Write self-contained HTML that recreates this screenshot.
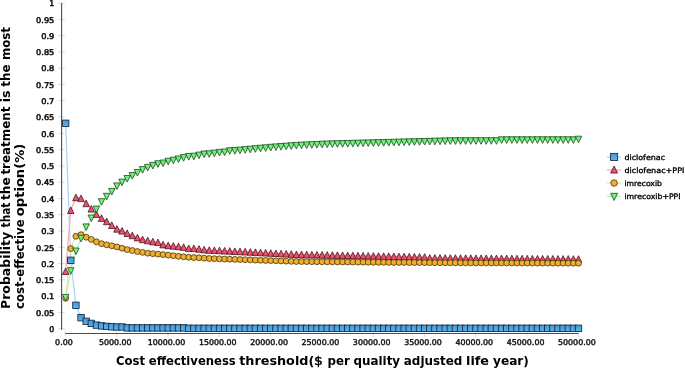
<!DOCTYPE html>
<html><head><meta charset="utf-8"><title>Cost-effectiveness acceptability curve</title>
<style>html,body{margin:0;padding:0;background:#fff}svg{display:block}</style></head>
<body>
<svg width="685" height="368" viewBox="0 0 685 368">
<defs><linearGradient id="gb" x1="0" y1="0" x2="0" y2="1"><stop offset="0" stop-color="#4799d6"/><stop offset="1" stop-color="#58b1ee"/></linearGradient></defs>
<rect width="685" height="368" fill="#fff"/>
<g stroke="#dedede" stroke-width="1">
<line x1="58" x2="65" y1="328.70" y2="328.70"/>
<line x1="58" x2="65" y1="312.42" y2="312.42"/>
<line x1="58" x2="65" y1="296.14" y2="296.14"/>
<line x1="58" x2="65" y1="279.86" y2="279.86"/>
<line x1="58" x2="65" y1="263.58" y2="263.58"/>
<line x1="58" x2="65" y1="247.30" y2="247.30"/>
<line x1="58" x2="65" y1="231.02" y2="231.02"/>
<line x1="58" x2="65" y1="214.74" y2="214.74"/>
<line x1="58" x2="65" y1="198.46" y2="198.46"/>
<line x1="58" x2="65" y1="182.18" y2="182.18"/>
<line x1="58" x2="65" y1="165.90" y2="165.90"/>
<line x1="58" x2="65" y1="149.62" y2="149.62"/>
<line x1="58" x2="65" y1="133.34" y2="133.34"/>
<line x1="58" x2="65" y1="117.06" y2="117.06"/>
<line x1="58" x2="65" y1="100.78" y2="100.78"/>
<line x1="58" x2="65" y1="84.50" y2="84.50"/>
<line x1="58" x2="65" y1="68.22" y2="68.22"/>
<line x1="58" x2="65" y1="51.94" y2="51.94"/>
<line x1="58" x2="65" y1="35.66" y2="35.66"/>
<line x1="58" x2="65" y1="19.38" y2="19.38"/>
<line x1="58" x2="65" y1="3.10" y2="3.10"/>
<line x1="65.30" x2="65.30" y1="331" y2="337"/>
<line x1="116.60" x2="116.60" y1="331" y2="337"/>
<line x1="167.90" x2="167.90" y1="331" y2="337"/>
<line x1="219.20" x2="219.20" y1="331" y2="337"/>
<line x1="270.50" x2="270.50" y1="331" y2="337"/>
<line x1="321.80" x2="321.80" y1="331" y2="337"/>
<line x1="373.10" x2="373.10" y1="331" y2="337"/>
<line x1="424.40" x2="424.40" y1="331" y2="337"/>
<line x1="475.70" x2="475.70" y1="331" y2="337"/>
<line x1="527.00" x2="527.00" y1="331" y2="337"/>
<line x1="578.30" x2="578.30" y1="331" y2="337"/>
</g>
<line x1="61.6" x2="61.6" y1="3.10" y2="329.70" stroke="#4d4d4d" stroke-width="1.1"/>
<line x1="65.2" x2="578.4" y1="333.5" y2="333.5" stroke="#4d4d4d" stroke-width="1.1"/>
<g font-family='"DejaVu Sans","Liberation Sans",sans-serif' font-size="7.8px" fill="#0a0a0a" stroke="#0a0a0a" stroke-width="0.5" text-anchor="end">
<text x="54.3" y="331.90">0</text>
<text x="54.3" y="315.62" textLength="18.2" lengthAdjust="spacingAndGlyphs">0.05</text>
<text x="54.3" y="299.34" textLength="13.1" lengthAdjust="spacingAndGlyphs">0.1</text>
<text x="54.3" y="283.06" textLength="18.2" lengthAdjust="spacingAndGlyphs">0.15</text>
<text x="54.3" y="266.78" textLength="13.1" lengthAdjust="spacingAndGlyphs">0.2</text>
<text x="54.3" y="250.50" textLength="18.2" lengthAdjust="spacingAndGlyphs">0.25</text>
<text x="54.3" y="234.22" textLength="13.1" lengthAdjust="spacingAndGlyphs">0.3</text>
<text x="54.3" y="217.94" textLength="18.2" lengthAdjust="spacingAndGlyphs">0.35</text>
<text x="54.3" y="201.66" textLength="13.1" lengthAdjust="spacingAndGlyphs">0.4</text>
<text x="54.3" y="185.38" textLength="18.2" lengthAdjust="spacingAndGlyphs">0.45</text>
<text x="54.3" y="169.10" textLength="13.1" lengthAdjust="spacingAndGlyphs">0.5</text>
<text x="54.3" y="152.82" textLength="18.2" lengthAdjust="spacingAndGlyphs">0.55</text>
<text x="54.3" y="136.54" textLength="13.1" lengthAdjust="spacingAndGlyphs">0.6</text>
<text x="54.3" y="120.26" textLength="18.2" lengthAdjust="spacingAndGlyphs">0.65</text>
<text x="54.3" y="103.98" textLength="13.1" lengthAdjust="spacingAndGlyphs">0.7</text>
<text x="54.3" y="87.70" textLength="18.2" lengthAdjust="spacingAndGlyphs">0.75</text>
<text x="54.3" y="71.42" textLength="13.1" lengthAdjust="spacingAndGlyphs">0.8</text>
<text x="54.3" y="55.14" textLength="18.2" lengthAdjust="spacingAndGlyphs">0.85</text>
<text x="54.3" y="38.86" textLength="13.1" lengthAdjust="spacingAndGlyphs">0.9</text>
<text x="54.3" y="22.58" textLength="18.2" lengthAdjust="spacingAndGlyphs">0.95</text>
<text x="54.3" y="6.30">1</text>
</g>
<g font-family='"DejaVu Sans","Liberation Sans",sans-serif' font-size="7.9px" fill="#0a0a0a" stroke="#0a0a0a" stroke-width="0.4" text-anchor="middle">
<text x="63.90" y="345.3">0.00</text>
<text x="115.20" y="345.3">5000.00</text>
<text x="166.50" y="345.3">10000.00</text>
<text x="217.80" y="345.3">15000.00</text>
<text x="269.10" y="345.3">20000.00</text>
<text x="320.40" y="345.3">25000.00</text>
<text x="371.70" y="345.3">30000.00</text>
<text x="423.00" y="345.3">35000.00</text>
<text x="474.30" y="345.3">40000.00</text>
<text x="525.60" y="345.3">45000.00</text>
<text x="576.90" y="345.3">50000.00</text>
</g>
<text font-family='"DejaVu Sans Condensed","DejaVu Sans","Liberation Sans",sans-serif' font-weight="bold" font-size="12.3px" fill="#000"><tspan x="116.00" y="364.6" textLength="29.10" lengthAdjust="spacingAndGlyphs">Cost</tspan> <tspan x="148.80" y="364.6" textLength="86.90" lengthAdjust="spacingAndGlyphs">effectiveness</tspan> <tspan x="239.20" y="364.6" textLength="75.10" lengthAdjust="spacingAndGlyphs">threshold(</tspan><tspan x="314.10" y="364.6" textLength="8.80" lengthAdjust="spacingAndGlyphs" font-weight="normal" stroke="#000" stroke-width="0.45">$</tspan> <tspan x="327.50" y="364.6" textLength="22.30" lengthAdjust="spacingAndGlyphs">per</tspan> <tspan x="353.60" y="364.6" textLength="46.50" lengthAdjust="spacingAndGlyphs">quality</tspan> <tspan x="403.80" y="364.6" textLength="58.60" lengthAdjust="spacingAndGlyphs">adjusted</tspan> <tspan x="466.00" y="364.6" textLength="23.00" lengthAdjust="spacingAndGlyphs">life</tspan> <tspan x="493.00" y="364.6" textLength="35.90" lengthAdjust="spacingAndGlyphs">year)</tspan></text>
<g transform="rotate(-90)" font-family='"DejaVu Sans Condensed","DejaVu Sans","Liberation Sans",sans-serif' font-weight="bold" font-size="13px" fill="#000">
<text><tspan x="-308.90" y="10.3" textLength="76.90" lengthAdjust="spacingAndGlyphs">Probability</tspan> <tspan x="-227.40" y="10.3" textLength="24.70" lengthAdjust="spacingAndGlyphs">that</tspan> <tspan x="-200.00" y="10.3" textLength="22.60" lengthAdjust="spacingAndGlyphs">the</tspan> <tspan x="-174.60" y="10.3" textLength="68.10" lengthAdjust="spacingAndGlyphs">treatment</tspan> <tspan x="-102.20" y="10.3" textLength="11.80" lengthAdjust="spacingAndGlyphs">is</tspan> <tspan x="-86.70" y="10.3" textLength="22.10" lengthAdjust="spacingAndGlyphs">the</tspan> <tspan x="-60.10" y="10.3" textLength="33.10" lengthAdjust="spacingAndGlyphs">most</tspan></text>
<text><tspan x="-309.00" y="24.0" textLength="89.60" lengthAdjust="spacingAndGlyphs">cost-effective</tspan> <tspan x="-216.20" y="24.0" textLength="72.40" lengthAdjust="spacingAndGlyphs">option(%)</tspan></text>
</g>
<polyline points="65.65,123.30 70.78,260.30 75.91,305.30 81.04,317.70 86.16,321.30 91.29,323.40 96.42,325.10 101.55,325.90 106.68,326.40 111.81,326.80 116.94,327.00 122.06,327.00 127.19,327.90 132.32,327.90 137.45,327.90 142.58,327.90 147.71,327.90 152.83,327.90 157.96,327.90 163.09,327.90 168.22,327.90 173.35,327.90 178.48,327.90 183.61,327.90 188.73,328.30 193.86,328.30 198.99,328.30 204.12,328.30 209.25,328.30 214.38,328.30 219.50,328.30 224.63,328.30 229.76,328.30 234.89,328.30 240.02,328.30 245.15,328.30 250.28,328.30 255.40,328.30 260.53,328.30 265.66,328.30 270.79,328.30 275.92,328.30 281.05,328.30 286.18,328.30 291.30,328.30 296.43,328.30 301.56,328.30 306.69,328.30 311.82,328.30 316.95,328.30 322.08,328.30 327.20,328.30 332.33,328.30 337.46,328.30 342.59,328.30 347.72,328.30 352.85,328.30 357.97,328.30 363.10,328.30 368.23,328.30 373.36,328.30 378.49,328.30 383.62,328.30 388.75,328.30 393.87,328.30 399.00,328.30 404.13,328.30 409.26,328.30 414.39,328.30 419.52,328.30 424.64,328.30 429.77,328.30 434.90,328.30 440.03,328.30 445.16,328.30 450.29,328.30 455.42,328.30 460.54,328.30 465.67,328.30 470.80,328.30 475.93,328.30 481.06,328.30 486.19,328.30 491.32,328.30 496.44,328.30 501.57,328.30 506.70,328.30 511.83,328.30 516.96,328.30 522.09,328.30 527.22,328.30 532.34,328.30 537.47,328.30 542.60,328.30 547.73,328.30 552.86,328.30 557.99,328.30 563.11,328.30 568.24,328.30 573.37,328.30 578.50,328.30" fill="none" stroke="#a8d3f2" stroke-width="1.2"/>
<polyline points="65.65,271.20 70.78,210.20 75.91,197.40 81.04,198.30 86.16,203.40 91.29,208.80 96.42,214.20 101.55,218.10 106.68,221.40 111.81,225.20 116.94,228.90 122.06,230.80 127.19,233.20 132.32,235.40 137.45,237.60 142.58,239.40 147.71,240.50 152.83,241.60 157.96,242.30 163.09,244.60 168.22,245.40 173.35,245.90 178.48,246.40 183.61,247.10 188.73,248.30 193.86,248.30 198.99,248.90 204.12,249.60 209.25,250.00 214.38,250.24 219.50,250.47 224.63,250.71 229.76,250.95 234.89,251.19 240.02,251.43 245.15,251.66 250.28,251.90 255.40,252.17 260.53,252.43 265.66,252.70 270.79,252.97 275.92,253.23 281.05,253.50 286.18,253.77 291.30,254.03 296.43,254.30 301.56,254.41 306.69,254.51 311.82,254.62 316.95,254.72 322.08,254.83 327.20,254.93 332.33,255.04 337.46,255.14 342.59,255.25 347.72,255.36 352.85,255.46 357.97,255.57 363.10,255.67 368.23,255.78 373.36,255.88 378.49,255.99 383.62,256.09 388.75,256.20 393.87,256.31 399.00,256.43 404.13,256.54 409.26,256.66 414.39,256.77 419.52,256.89 424.64,257.00 429.77,257.80 434.90,257.84 440.03,257.88 445.16,257.93 450.29,257.97 455.42,258.01 460.54,258.05 465.67,258.09 470.80,258.14 475.93,258.18 481.06,258.22 486.19,258.26 491.32,258.31 496.44,258.35 501.57,258.39 506.70,258.43 511.83,258.47 516.96,258.52 522.09,258.56 527.22,258.60 532.34,258.64 537.47,258.68 542.60,258.72 547.73,258.76 552.86,258.80 557.99,258.84 563.11,258.88 568.24,258.92 573.37,258.96 578.50,259.00" fill="none" stroke="#f9a6b4" stroke-width="1.2"/>
<polyline points="65.65,298.30 70.78,248.60 75.91,236.30 81.04,234.70 86.16,237.20 91.29,239.40 96.42,241.80 101.55,243.70 106.68,244.80 111.81,245.80 116.94,246.90 122.06,248.25 127.19,249.60 132.32,250.55 137.45,251.50 142.58,252.35 147.71,253.20 152.83,253.65 157.96,254.10 163.09,254.60 168.22,255.10 173.35,255.70 178.48,256.30 183.61,256.80 188.73,257.30 193.86,257.55 198.99,257.80 204.12,258.15 209.25,258.50 214.38,258.68 219.50,258.85 224.63,259.02 229.76,259.20 234.89,259.38 240.02,259.55 245.15,259.72 250.28,259.90 255.40,260.08 260.53,260.26 265.66,260.43 270.79,260.61 275.92,260.79 281.05,260.97 286.18,261.14 291.30,261.32 296.43,261.50 301.56,261.55 306.69,261.60 311.82,261.65 316.95,261.70 322.08,261.75 327.20,261.80 332.33,261.85 337.46,261.90 342.59,261.95 347.72,262.00 352.85,262.05 357.97,262.10 363.10,262.15 368.23,262.20 373.36,262.25 378.49,262.30 383.62,262.35 388.75,262.40 393.87,262.43 399.00,262.47 404.13,262.50 409.26,262.53 414.39,262.57 419.52,262.60 424.64,262.63 429.77,262.67 434.90,262.70 440.03,262.73 445.16,262.77 450.29,262.80 455.42,262.82 460.54,262.83 465.67,262.85 470.80,262.86 475.93,262.88 481.06,262.90 486.19,262.91 491.32,262.93 496.44,262.94 501.57,262.96 506.70,262.98 511.83,262.99 516.96,263.01 522.09,263.02 527.22,263.04 532.34,263.06 537.47,263.07 542.60,263.09 547.73,263.10 552.86,263.12 557.99,263.14 563.11,263.15 568.24,263.17 573.37,263.18 578.50,263.20" fill="none" stroke="#f9d9a8" stroke-width="1.2"/>
<polyline points="65.65,297.70 70.78,271.00 75.91,251.30 81.04,238.60 86.16,227.20 91.29,218.30 96.42,209.40 101.55,202.00 106.68,196.60 111.81,191.70 116.94,186.20 122.06,182.40 127.19,178.80 132.32,175.80 137.45,172.80 142.58,169.90 147.71,167.70 152.83,165.70 157.96,164.10 163.09,163.30 168.22,161.55 173.35,160.50 178.48,159.20 183.61,157.90 188.73,156.80 193.86,156.50 198.99,155.40 204.12,154.30 209.25,154.10 214.38,153.40 219.50,152.70 224.63,152.30 229.76,151.00 234.89,150.90 240.02,150.40 245.15,149.93 250.28,149.47 255.40,149.00 260.53,148.53 265.66,148.07 270.79,147.60 275.92,147.22 281.05,146.84 286.18,146.46 291.30,146.08 296.43,145.70 301.56,145.47 306.69,145.23 311.82,145.00 316.95,144.77 322.08,144.53 327.20,144.30 332.33,144.17 337.46,144.03 342.59,143.90 347.72,143.77 352.85,143.63 357.97,143.50 363.10,143.37 368.23,143.23 373.36,143.10 378.49,142.97 383.62,142.83 388.75,142.70 393.87,142.57 399.00,142.43 404.13,142.30 409.26,142.17 414.39,142.03 419.52,141.90 424.64,141.77 429.77,141.63 434.90,141.50 440.03,141.37 445.16,141.23 450.29,141.10 455.42,141.09 460.54,141.08 465.67,141.07 470.80,141.06 475.93,141.04 481.06,141.03 486.19,141.02 491.32,141.01 496.44,141.00 501.57,140.10 506.70,140.10 511.83,140.10 516.96,140.10 522.09,140.10 527.22,140.10 532.34,140.10 537.47,140.10 542.60,140.10 547.73,140.10 552.86,140.10 557.99,140.10 563.11,140.10 568.24,140.10 573.37,140.10 578.50,139.50" fill="none" stroke="#b2f7b6" stroke-width="1.2"/>
<g>
<rect x="62.45" y="120.10" width="6.40" height="6.40" fill="url(#gb)" stroke="#10283c" stroke-width="0.85"/>
<rect x="67.58" y="257.10" width="6.40" height="6.40" fill="url(#gb)" stroke="#10283c" stroke-width="0.85"/>
<rect x="72.71" y="302.10" width="6.40" height="6.40" fill="url(#gb)" stroke="#10283c" stroke-width="0.85"/>
<rect x="77.84" y="314.50" width="6.40" height="6.40" fill="url(#gb)" stroke="#10283c" stroke-width="0.85"/>
<rect x="82.96" y="318.10" width="6.40" height="6.40" fill="url(#gb)" stroke="#10283c" stroke-width="0.85"/>
<rect x="88.09" y="320.20" width="6.40" height="6.40" fill="url(#gb)" stroke="#10283c" stroke-width="0.85"/>
<rect x="93.22" y="321.90" width="6.40" height="6.40" fill="url(#gb)" stroke="#10283c" stroke-width="0.85"/>
<rect x="98.35" y="322.70" width="6.40" height="6.40" fill="url(#gb)" stroke="#10283c" stroke-width="0.85"/>
<rect x="103.48" y="323.20" width="6.40" height="6.40" fill="url(#gb)" stroke="#10283c" stroke-width="0.85"/>
<rect x="108.61" y="323.60" width="6.40" height="6.40" fill="url(#gb)" stroke="#10283c" stroke-width="0.85"/>
<rect x="113.73" y="323.80" width="6.40" height="6.40" fill="url(#gb)" stroke="#10283c" stroke-width="0.85"/>
<rect x="118.86" y="323.80" width="6.40" height="6.40" fill="url(#gb)" stroke="#10283c" stroke-width="0.85"/>
<rect x="123.99" y="324.70" width="6.40" height="6.40" fill="url(#gb)" stroke="#10283c" stroke-width="0.85"/>
<rect x="129.12" y="324.70" width="6.40" height="6.40" fill="url(#gb)" stroke="#10283c" stroke-width="0.85"/>
<rect x="134.25" y="324.70" width="6.40" height="6.40" fill="url(#gb)" stroke="#10283c" stroke-width="0.85"/>
<rect x="139.38" y="324.70" width="6.40" height="6.40" fill="url(#gb)" stroke="#10283c" stroke-width="0.85"/>
<rect x="144.51" y="324.70" width="6.40" height="6.40" fill="url(#gb)" stroke="#10283c" stroke-width="0.85"/>
<rect x="149.63" y="324.70" width="6.40" height="6.40" fill="url(#gb)" stroke="#10283c" stroke-width="0.85"/>
<rect x="154.76" y="324.70" width="6.40" height="6.40" fill="url(#gb)" stroke="#10283c" stroke-width="0.85"/>
<rect x="159.89" y="324.70" width="6.40" height="6.40" fill="url(#gb)" stroke="#10283c" stroke-width="0.85"/>
<rect x="165.02" y="324.70" width="6.40" height="6.40" fill="url(#gb)" stroke="#10283c" stroke-width="0.85"/>
<rect x="170.15" y="324.70" width="6.40" height="6.40" fill="url(#gb)" stroke="#10283c" stroke-width="0.85"/>
<rect x="175.28" y="324.70" width="6.40" height="6.40" fill="url(#gb)" stroke="#10283c" stroke-width="0.85"/>
<rect x="180.41" y="324.70" width="6.40" height="6.40" fill="url(#gb)" stroke="#10283c" stroke-width="0.85"/>
<rect x="185.53" y="325.10" width="6.40" height="6.40" fill="url(#gb)" stroke="#10283c" stroke-width="0.85"/>
<rect x="190.66" y="325.10" width="6.40" height="6.40" fill="url(#gb)" stroke="#10283c" stroke-width="0.85"/>
<rect x="195.79" y="325.10" width="6.40" height="6.40" fill="url(#gb)" stroke="#10283c" stroke-width="0.85"/>
<rect x="200.92" y="325.10" width="6.40" height="6.40" fill="url(#gb)" stroke="#10283c" stroke-width="0.85"/>
<rect x="206.05" y="325.10" width="6.40" height="6.40" fill="url(#gb)" stroke="#10283c" stroke-width="0.85"/>
<rect x="211.18" y="325.10" width="6.40" height="6.40" fill="url(#gb)" stroke="#10283c" stroke-width="0.85"/>
<rect x="216.31" y="325.10" width="6.40" height="6.40" fill="url(#gb)" stroke="#10283c" stroke-width="0.85"/>
<rect x="221.43" y="325.10" width="6.40" height="6.40" fill="url(#gb)" stroke="#10283c" stroke-width="0.85"/>
<rect x="226.56" y="325.10" width="6.40" height="6.40" fill="url(#gb)" stroke="#10283c" stroke-width="0.85"/>
<rect x="231.69" y="325.10" width="6.40" height="6.40" fill="url(#gb)" stroke="#10283c" stroke-width="0.85"/>
<rect x="236.82" y="325.10" width="6.40" height="6.40" fill="url(#gb)" stroke="#10283c" stroke-width="0.85"/>
<rect x="241.95" y="325.10" width="6.40" height="6.40" fill="url(#gb)" stroke="#10283c" stroke-width="0.85"/>
<rect x="247.08" y="325.10" width="6.40" height="6.40" fill="url(#gb)" stroke="#10283c" stroke-width="0.85"/>
<rect x="252.20" y="325.10" width="6.40" height="6.40" fill="url(#gb)" stroke="#10283c" stroke-width="0.85"/>
<rect x="257.33" y="325.10" width="6.40" height="6.40" fill="url(#gb)" stroke="#10283c" stroke-width="0.85"/>
<rect x="262.46" y="325.10" width="6.40" height="6.40" fill="url(#gb)" stroke="#10283c" stroke-width="0.85"/>
<rect x="267.59" y="325.10" width="6.40" height="6.40" fill="url(#gb)" stroke="#10283c" stroke-width="0.85"/>
<rect x="272.72" y="325.10" width="6.40" height="6.40" fill="url(#gb)" stroke="#10283c" stroke-width="0.85"/>
<rect x="277.85" y="325.10" width="6.40" height="6.40" fill="url(#gb)" stroke="#10283c" stroke-width="0.85"/>
<rect x="282.98" y="325.10" width="6.40" height="6.40" fill="url(#gb)" stroke="#10283c" stroke-width="0.85"/>
<rect x="288.10" y="325.10" width="6.40" height="6.40" fill="url(#gb)" stroke="#10283c" stroke-width="0.85"/>
<rect x="293.23" y="325.10" width="6.40" height="6.40" fill="url(#gb)" stroke="#10283c" stroke-width="0.85"/>
<rect x="298.36" y="325.10" width="6.40" height="6.40" fill="url(#gb)" stroke="#10283c" stroke-width="0.85"/>
<rect x="303.49" y="325.10" width="6.40" height="6.40" fill="url(#gb)" stroke="#10283c" stroke-width="0.85"/>
<rect x="308.62" y="325.10" width="6.40" height="6.40" fill="url(#gb)" stroke="#10283c" stroke-width="0.85"/>
<rect x="313.75" y="325.10" width="6.40" height="6.40" fill="url(#gb)" stroke="#10283c" stroke-width="0.85"/>
<rect x="318.88" y="325.10" width="6.40" height="6.40" fill="url(#gb)" stroke="#10283c" stroke-width="0.85"/>
<rect x="324.00" y="325.10" width="6.40" height="6.40" fill="url(#gb)" stroke="#10283c" stroke-width="0.85"/>
<rect x="329.13" y="325.10" width="6.40" height="6.40" fill="url(#gb)" stroke="#10283c" stroke-width="0.85"/>
<rect x="334.26" y="325.10" width="6.40" height="6.40" fill="url(#gb)" stroke="#10283c" stroke-width="0.85"/>
<rect x="339.39" y="325.10" width="6.40" height="6.40" fill="url(#gb)" stroke="#10283c" stroke-width="0.85"/>
<rect x="344.52" y="325.10" width="6.40" height="6.40" fill="url(#gb)" stroke="#10283c" stroke-width="0.85"/>
<rect x="349.65" y="325.10" width="6.40" height="6.40" fill="url(#gb)" stroke="#10283c" stroke-width="0.85"/>
<rect x="354.77" y="325.10" width="6.40" height="6.40" fill="url(#gb)" stroke="#10283c" stroke-width="0.85"/>
<rect x="359.90" y="325.10" width="6.40" height="6.40" fill="url(#gb)" stroke="#10283c" stroke-width="0.85"/>
<rect x="365.03" y="325.10" width="6.40" height="6.40" fill="url(#gb)" stroke="#10283c" stroke-width="0.85"/>
<rect x="370.16" y="325.10" width="6.40" height="6.40" fill="url(#gb)" stroke="#10283c" stroke-width="0.85"/>
<rect x="375.29" y="325.10" width="6.40" height="6.40" fill="url(#gb)" stroke="#10283c" stroke-width="0.85"/>
<rect x="380.42" y="325.10" width="6.40" height="6.40" fill="url(#gb)" stroke="#10283c" stroke-width="0.85"/>
<rect x="385.55" y="325.10" width="6.40" height="6.40" fill="url(#gb)" stroke="#10283c" stroke-width="0.85"/>
<rect x="390.67" y="325.10" width="6.40" height="6.40" fill="url(#gb)" stroke="#10283c" stroke-width="0.85"/>
<rect x="395.80" y="325.10" width="6.40" height="6.40" fill="url(#gb)" stroke="#10283c" stroke-width="0.85"/>
<rect x="400.93" y="325.10" width="6.40" height="6.40" fill="url(#gb)" stroke="#10283c" stroke-width="0.85"/>
<rect x="406.06" y="325.10" width="6.40" height="6.40" fill="url(#gb)" stroke="#10283c" stroke-width="0.85"/>
<rect x="411.19" y="325.10" width="6.40" height="6.40" fill="url(#gb)" stroke="#10283c" stroke-width="0.85"/>
<rect x="416.32" y="325.10" width="6.40" height="6.40" fill="url(#gb)" stroke="#10283c" stroke-width="0.85"/>
<rect x="421.44" y="325.10" width="6.40" height="6.40" fill="url(#gb)" stroke="#10283c" stroke-width="0.85"/>
<rect x="426.57" y="325.10" width="6.40" height="6.40" fill="url(#gb)" stroke="#10283c" stroke-width="0.85"/>
<rect x="431.70" y="325.10" width="6.40" height="6.40" fill="url(#gb)" stroke="#10283c" stroke-width="0.85"/>
<rect x="436.83" y="325.10" width="6.40" height="6.40" fill="url(#gb)" stroke="#10283c" stroke-width="0.85"/>
<rect x="441.96" y="325.10" width="6.40" height="6.40" fill="url(#gb)" stroke="#10283c" stroke-width="0.85"/>
<rect x="447.09" y="325.10" width="6.40" height="6.40" fill="url(#gb)" stroke="#10283c" stroke-width="0.85"/>
<rect x="452.22" y="325.10" width="6.40" height="6.40" fill="url(#gb)" stroke="#10283c" stroke-width="0.85"/>
<rect x="457.34" y="325.10" width="6.40" height="6.40" fill="url(#gb)" stroke="#10283c" stroke-width="0.85"/>
<rect x="462.47" y="325.10" width="6.40" height="6.40" fill="url(#gb)" stroke="#10283c" stroke-width="0.85"/>
<rect x="467.60" y="325.10" width="6.40" height="6.40" fill="url(#gb)" stroke="#10283c" stroke-width="0.85"/>
<rect x="472.73" y="325.10" width="6.40" height="6.40" fill="url(#gb)" stroke="#10283c" stroke-width="0.85"/>
<rect x="477.86" y="325.10" width="6.40" height="6.40" fill="url(#gb)" stroke="#10283c" stroke-width="0.85"/>
<rect x="482.99" y="325.10" width="6.40" height="6.40" fill="url(#gb)" stroke="#10283c" stroke-width="0.85"/>
<rect x="488.12" y="325.10" width="6.40" height="6.40" fill="url(#gb)" stroke="#10283c" stroke-width="0.85"/>
<rect x="493.24" y="325.10" width="6.40" height="6.40" fill="url(#gb)" stroke="#10283c" stroke-width="0.85"/>
<rect x="498.37" y="325.10" width="6.40" height="6.40" fill="url(#gb)" stroke="#10283c" stroke-width="0.85"/>
<rect x="503.50" y="325.10" width="6.40" height="6.40" fill="url(#gb)" stroke="#10283c" stroke-width="0.85"/>
<rect x="508.63" y="325.10" width="6.40" height="6.40" fill="url(#gb)" stroke="#10283c" stroke-width="0.85"/>
<rect x="513.76" y="325.10" width="6.40" height="6.40" fill="url(#gb)" stroke="#10283c" stroke-width="0.85"/>
<rect x="518.89" y="325.10" width="6.40" height="6.40" fill="url(#gb)" stroke="#10283c" stroke-width="0.85"/>
<rect x="524.01" y="325.10" width="6.40" height="6.40" fill="url(#gb)" stroke="#10283c" stroke-width="0.85"/>
<rect x="529.14" y="325.10" width="6.40" height="6.40" fill="url(#gb)" stroke="#10283c" stroke-width="0.85"/>
<rect x="534.27" y="325.10" width="6.40" height="6.40" fill="url(#gb)" stroke="#10283c" stroke-width="0.85"/>
<rect x="539.40" y="325.10" width="6.40" height="6.40" fill="url(#gb)" stroke="#10283c" stroke-width="0.85"/>
<rect x="544.53" y="325.10" width="6.40" height="6.40" fill="url(#gb)" stroke="#10283c" stroke-width="0.85"/>
<rect x="549.66" y="325.10" width="6.40" height="6.40" fill="url(#gb)" stroke="#10283c" stroke-width="0.85"/>
<rect x="554.79" y="325.10" width="6.40" height="6.40" fill="url(#gb)" stroke="#10283c" stroke-width="0.85"/>
<rect x="559.91" y="325.10" width="6.40" height="6.40" fill="url(#gb)" stroke="#10283c" stroke-width="0.85"/>
<rect x="565.04" y="325.10" width="6.40" height="6.40" fill="url(#gb)" stroke="#10283c" stroke-width="0.85"/>
<rect x="570.17" y="325.10" width="6.40" height="6.40" fill="url(#gb)" stroke="#10283c" stroke-width="0.85"/>
<rect x="575.30" y="325.10" width="6.40" height="6.40" fill="url(#gb)" stroke="#10283c" stroke-width="0.85"/>
</g>
<g>
<path d="M62.40 274.50L68.90 274.50L65.65 267.90Z" fill="#f0506b" stroke="#3c121c" stroke-width="0.75"/>
<path d="M67.53 213.50L74.03 213.50L70.78 206.90Z" fill="#f0506b" stroke="#3c121c" stroke-width="0.75"/>
<path d="M72.66 200.70L79.16 200.70L75.91 194.10Z" fill="#f0506b" stroke="#3c121c" stroke-width="0.75"/>
<path d="M77.79 201.60L84.29 201.60L81.04 195.00Z" fill="#f0506b" stroke="#3c121c" stroke-width="0.75"/>
<path d="M82.91 206.70L89.41 206.70L86.16 200.10Z" fill="#f0506b" stroke="#3c121c" stroke-width="0.75"/>
<path d="M88.04 212.10L94.54 212.10L91.29 205.50Z" fill="#f0506b" stroke="#3c121c" stroke-width="0.75"/>
<path d="M93.17 217.50L99.67 217.50L96.42 210.90Z" fill="#f0506b" stroke="#3c121c" stroke-width="0.75"/>
<path d="M98.30 221.40L104.80 221.40L101.55 214.80Z" fill="#f0506b" stroke="#3c121c" stroke-width="0.75"/>
<path d="M103.43 224.70L109.93 224.70L106.68 218.10Z" fill="#f0506b" stroke="#3c121c" stroke-width="0.75"/>
<path d="M108.56 228.50L115.06 228.50L111.81 221.90Z" fill="#f0506b" stroke="#3c121c" stroke-width="0.75"/>
<path d="M113.69 232.20L120.19 232.20L116.94 225.60Z" fill="#f0506b" stroke="#3c121c" stroke-width="0.75"/>
<path d="M118.81 234.10L125.31 234.10L122.06 227.50Z" fill="#f0506b" stroke="#3c121c" stroke-width="0.75"/>
<path d="M123.94 236.50L130.44 236.50L127.19 229.90Z" fill="#f0506b" stroke="#3c121c" stroke-width="0.75"/>
<path d="M129.07 238.70L135.57 238.70L132.32 232.10Z" fill="#f0506b" stroke="#3c121c" stroke-width="0.75"/>
<path d="M134.20 240.90L140.70 240.90L137.45 234.30Z" fill="#f0506b" stroke="#3c121c" stroke-width="0.75"/>
<path d="M139.33 242.70L145.83 242.70L142.58 236.10Z" fill="#f0506b" stroke="#3c121c" stroke-width="0.75"/>
<path d="M144.46 243.80L150.96 243.80L147.71 237.20Z" fill="#f0506b" stroke="#3c121c" stroke-width="0.75"/>
<path d="M149.58 244.90L156.08 244.90L152.83 238.30Z" fill="#f0506b" stroke="#3c121c" stroke-width="0.75"/>
<path d="M154.71 245.60L161.21 245.60L157.96 239.00Z" fill="#f0506b" stroke="#3c121c" stroke-width="0.75"/>
<path d="M159.84 247.90L166.34 247.90L163.09 241.30Z" fill="#f0506b" stroke="#3c121c" stroke-width="0.75"/>
<path d="M164.97 248.70L171.47 248.70L168.22 242.10Z" fill="#f0506b" stroke="#3c121c" stroke-width="0.75"/>
<path d="M170.10 249.20L176.60 249.20L173.35 242.60Z" fill="#f0506b" stroke="#3c121c" stroke-width="0.75"/>
<path d="M175.23 249.70L181.73 249.70L178.48 243.10Z" fill="#f0506b" stroke="#3c121c" stroke-width="0.75"/>
<path d="M180.36 250.40L186.86 250.40L183.61 243.80Z" fill="#f0506b" stroke="#3c121c" stroke-width="0.75"/>
<path d="M185.48 251.60L191.98 251.60L188.73 245.00Z" fill="#f0506b" stroke="#3c121c" stroke-width="0.75"/>
<path d="M190.61 251.60L197.11 251.60L193.86 245.00Z" fill="#f0506b" stroke="#3c121c" stroke-width="0.75"/>
<path d="M195.74 252.20L202.24 252.20L198.99 245.60Z" fill="#f0506b" stroke="#3c121c" stroke-width="0.75"/>
<path d="M200.87 252.90L207.37 252.90L204.12 246.30Z" fill="#f0506b" stroke="#3c121c" stroke-width="0.75"/>
<path d="M206.00 253.30L212.50 253.30L209.25 246.70Z" fill="#f0506b" stroke="#3c121c" stroke-width="0.75"/>
<path d="M211.13 253.54L217.63 253.54L214.38 246.94Z" fill="#f0506b" stroke="#3c121c" stroke-width="0.75"/>
<path d="M216.25 253.78L222.75 253.78L219.50 247.17Z" fill="#f0506b" stroke="#3c121c" stroke-width="0.75"/>
<path d="M221.38 254.01L227.88 254.01L224.63 247.41Z" fill="#f0506b" stroke="#3c121c" stroke-width="0.75"/>
<path d="M226.51 254.25L233.01 254.25L229.76 247.65Z" fill="#f0506b" stroke="#3c121c" stroke-width="0.75"/>
<path d="M231.64 254.49L238.14 254.49L234.89 247.89Z" fill="#f0506b" stroke="#3c121c" stroke-width="0.75"/>
<path d="M236.77 254.73L243.27 254.73L240.02 248.12Z" fill="#f0506b" stroke="#3c121c" stroke-width="0.75"/>
<path d="M241.90 254.96L248.40 254.96L245.15 248.36Z" fill="#f0506b" stroke="#3c121c" stroke-width="0.75"/>
<path d="M247.03 255.20L253.53 255.20L250.28 248.60Z" fill="#f0506b" stroke="#3c121c" stroke-width="0.75"/>
<path d="M252.15 255.47L258.65 255.47L255.40 248.87Z" fill="#f0506b" stroke="#3c121c" stroke-width="0.75"/>
<path d="M257.28 255.73L263.78 255.73L260.53 249.13Z" fill="#f0506b" stroke="#3c121c" stroke-width="0.75"/>
<path d="M262.41 256.00L268.91 256.00L265.66 249.40Z" fill="#f0506b" stroke="#3c121c" stroke-width="0.75"/>
<path d="M267.54 256.27L274.04 256.27L270.79 249.67Z" fill="#f0506b" stroke="#3c121c" stroke-width="0.75"/>
<path d="M272.67 256.53L279.17 256.53L275.92 249.93Z" fill="#f0506b" stroke="#3c121c" stroke-width="0.75"/>
<path d="M277.80 256.80L284.30 256.80L281.05 250.20Z" fill="#f0506b" stroke="#3c121c" stroke-width="0.75"/>
<path d="M282.93 257.07L289.43 257.07L286.18 250.47Z" fill="#f0506b" stroke="#3c121c" stroke-width="0.75"/>
<path d="M288.05 257.33L294.55 257.33L291.30 250.73Z" fill="#f0506b" stroke="#3c121c" stroke-width="0.75"/>
<path d="M293.18 257.60L299.68 257.60L296.43 251.00Z" fill="#f0506b" stroke="#3c121c" stroke-width="0.75"/>
<path d="M298.31 257.71L304.81 257.71L301.56 251.11Z" fill="#f0506b" stroke="#3c121c" stroke-width="0.75"/>
<path d="M303.44 257.81L309.94 257.81L306.69 251.21Z" fill="#f0506b" stroke="#3c121c" stroke-width="0.75"/>
<path d="M308.57 257.92L315.07 257.92L311.82 251.32Z" fill="#f0506b" stroke="#3c121c" stroke-width="0.75"/>
<path d="M313.70 258.02L320.20 258.02L316.95 251.42Z" fill="#f0506b" stroke="#3c121c" stroke-width="0.75"/>
<path d="M318.83 258.13L325.33 258.13L322.08 251.53Z" fill="#f0506b" stroke="#3c121c" stroke-width="0.75"/>
<path d="M323.95 258.23L330.45 258.23L327.20 251.63Z" fill="#f0506b" stroke="#3c121c" stroke-width="0.75"/>
<path d="M329.08 258.34L335.58 258.34L332.33 251.74Z" fill="#f0506b" stroke="#3c121c" stroke-width="0.75"/>
<path d="M334.21 258.44L340.71 258.44L337.46 251.84Z" fill="#f0506b" stroke="#3c121c" stroke-width="0.75"/>
<path d="M339.34 258.55L345.84 258.55L342.59 251.95Z" fill="#f0506b" stroke="#3c121c" stroke-width="0.75"/>
<path d="M344.47 258.66L350.97 258.66L347.72 252.06Z" fill="#f0506b" stroke="#3c121c" stroke-width="0.75"/>
<path d="M349.60 258.76L356.10 258.76L352.85 252.16Z" fill="#f0506b" stroke="#3c121c" stroke-width="0.75"/>
<path d="M354.72 258.87L361.22 258.87L357.97 252.27Z" fill="#f0506b" stroke="#3c121c" stroke-width="0.75"/>
<path d="M359.85 258.97L366.35 258.97L363.10 252.37Z" fill="#f0506b" stroke="#3c121c" stroke-width="0.75"/>
<path d="M364.98 259.08L371.48 259.08L368.23 252.48Z" fill="#f0506b" stroke="#3c121c" stroke-width="0.75"/>
<path d="M370.11 259.18L376.61 259.18L373.36 252.58Z" fill="#f0506b" stroke="#3c121c" stroke-width="0.75"/>
<path d="M375.24 259.29L381.74 259.29L378.49 252.69Z" fill="#f0506b" stroke="#3c121c" stroke-width="0.75"/>
<path d="M380.37 259.39L386.87 259.39L383.62 252.79Z" fill="#f0506b" stroke="#3c121c" stroke-width="0.75"/>
<path d="M385.50 259.50L392.00 259.50L388.75 252.90Z" fill="#f0506b" stroke="#3c121c" stroke-width="0.75"/>
<path d="M390.62 259.61L397.12 259.61L393.87 253.01Z" fill="#f0506b" stroke="#3c121c" stroke-width="0.75"/>
<path d="M395.75 259.73L402.25 259.73L399.00 253.13Z" fill="#f0506b" stroke="#3c121c" stroke-width="0.75"/>
<path d="M400.88 259.84L407.38 259.84L404.13 253.24Z" fill="#f0506b" stroke="#3c121c" stroke-width="0.75"/>
<path d="M406.01 259.96L412.51 259.96L409.26 253.36Z" fill="#f0506b" stroke="#3c121c" stroke-width="0.75"/>
<path d="M411.14 260.07L417.64 260.07L414.39 253.47Z" fill="#f0506b" stroke="#3c121c" stroke-width="0.75"/>
<path d="M416.27 260.19L422.77 260.19L419.52 253.59Z" fill="#f0506b" stroke="#3c121c" stroke-width="0.75"/>
<path d="M421.39 260.30L427.89 260.30L424.64 253.70Z" fill="#f0506b" stroke="#3c121c" stroke-width="0.75"/>
<path d="M426.52 261.10L433.02 261.10L429.77 254.50Z" fill="#f0506b" stroke="#3c121c" stroke-width="0.75"/>
<path d="M431.65 261.14L438.15 261.14L434.90 254.54Z" fill="#f0506b" stroke="#3c121c" stroke-width="0.75"/>
<path d="M436.78 261.18L443.28 261.18L440.03 254.58Z" fill="#f0506b" stroke="#3c121c" stroke-width="0.75"/>
<path d="M441.91 261.23L448.41 261.23L445.16 254.63Z" fill="#f0506b" stroke="#3c121c" stroke-width="0.75"/>
<path d="M447.04 261.27L453.54 261.27L450.29 254.67Z" fill="#f0506b" stroke="#3c121c" stroke-width="0.75"/>
<path d="M452.17 261.31L458.67 261.31L455.42 254.71Z" fill="#f0506b" stroke="#3c121c" stroke-width="0.75"/>
<path d="M457.29 261.35L463.79 261.35L460.54 254.75Z" fill="#f0506b" stroke="#3c121c" stroke-width="0.75"/>
<path d="M462.42 261.39L468.92 261.39L465.67 254.79Z" fill="#f0506b" stroke="#3c121c" stroke-width="0.75"/>
<path d="M467.55 261.44L474.05 261.44L470.80 254.84Z" fill="#f0506b" stroke="#3c121c" stroke-width="0.75"/>
<path d="M472.68 261.48L479.18 261.48L475.93 254.88Z" fill="#f0506b" stroke="#3c121c" stroke-width="0.75"/>
<path d="M477.81 261.52L484.31 261.52L481.06 254.92Z" fill="#f0506b" stroke="#3c121c" stroke-width="0.75"/>
<path d="M482.94 261.56L489.44 261.56L486.19 254.96Z" fill="#f0506b" stroke="#3c121c" stroke-width="0.75"/>
<path d="M488.07 261.61L494.57 261.61L491.32 255.01Z" fill="#f0506b" stroke="#3c121c" stroke-width="0.75"/>
<path d="M493.19 261.65L499.69 261.65L496.44 255.05Z" fill="#f0506b" stroke="#3c121c" stroke-width="0.75"/>
<path d="M498.32 261.69L504.82 261.69L501.57 255.09Z" fill="#f0506b" stroke="#3c121c" stroke-width="0.75"/>
<path d="M503.45 261.73L509.95 261.73L506.70 255.13Z" fill="#f0506b" stroke="#3c121c" stroke-width="0.75"/>
<path d="M508.58 261.77L515.08 261.77L511.83 255.17Z" fill="#f0506b" stroke="#3c121c" stroke-width="0.75"/>
<path d="M513.71 261.82L520.21 261.82L516.96 255.22Z" fill="#f0506b" stroke="#3c121c" stroke-width="0.75"/>
<path d="M518.84 261.86L525.34 261.86L522.09 255.26Z" fill="#f0506b" stroke="#3c121c" stroke-width="0.75"/>
<path d="M523.97 261.90L530.47 261.90L527.22 255.30Z" fill="#f0506b" stroke="#3c121c" stroke-width="0.75"/>
<path d="M529.09 261.94L535.59 261.94L532.34 255.34Z" fill="#f0506b" stroke="#3c121c" stroke-width="0.75"/>
<path d="M534.22 261.98L540.72 261.98L537.47 255.38Z" fill="#f0506b" stroke="#3c121c" stroke-width="0.75"/>
<path d="M539.35 262.02L545.85 262.02L542.60 255.42Z" fill="#f0506b" stroke="#3c121c" stroke-width="0.75"/>
<path d="M544.48 262.06L550.98 262.06L547.73 255.46Z" fill="#f0506b" stroke="#3c121c" stroke-width="0.75"/>
<path d="M549.61 262.10L556.11 262.10L552.86 255.50Z" fill="#f0506b" stroke="#3c121c" stroke-width="0.75"/>
<path d="M554.74 262.14L561.24 262.14L557.99 255.54Z" fill="#f0506b" stroke="#3c121c" stroke-width="0.75"/>
<path d="M559.86 262.18L566.36 262.18L563.11 255.58Z" fill="#f0506b" stroke="#3c121c" stroke-width="0.75"/>
<path d="M564.99 262.22L571.49 262.22L568.24 255.62Z" fill="#f0506b" stroke="#3c121c" stroke-width="0.75"/>
<path d="M570.12 262.26L576.62 262.26L573.37 255.66Z" fill="#f0506b" stroke="#3c121c" stroke-width="0.75"/>
<path d="M575.25 262.30L581.75 262.30L578.50 255.70Z" fill="#f0506b" stroke="#3c121c" stroke-width="0.75"/>
</g>
<g>
<circle cx="65.65" cy="298.30" r="2.95" fill="#efb030" stroke="#46340e" stroke-width="0.8"/>
<circle cx="70.78" cy="248.60" r="2.95" fill="#efb030" stroke="#46340e" stroke-width="0.8"/>
<circle cx="75.91" cy="236.30" r="2.95" fill="#efb030" stroke="#46340e" stroke-width="0.8"/>
<circle cx="81.04" cy="234.70" r="2.95" fill="#efb030" stroke="#46340e" stroke-width="0.8"/>
<circle cx="86.16" cy="237.20" r="2.95" fill="#efb030" stroke="#46340e" stroke-width="0.8"/>
<circle cx="91.29" cy="239.40" r="2.95" fill="#efb030" stroke="#46340e" stroke-width="0.8"/>
<circle cx="96.42" cy="241.80" r="2.95" fill="#efb030" stroke="#46340e" stroke-width="0.8"/>
<circle cx="101.55" cy="243.70" r="2.95" fill="#efb030" stroke="#46340e" stroke-width="0.8"/>
<circle cx="106.68" cy="244.80" r="2.95" fill="#efb030" stroke="#46340e" stroke-width="0.8"/>
<circle cx="111.81" cy="245.80" r="2.95" fill="#efb030" stroke="#46340e" stroke-width="0.8"/>
<circle cx="116.94" cy="246.90" r="2.95" fill="#efb030" stroke="#46340e" stroke-width="0.8"/>
<circle cx="122.06" cy="248.25" r="2.95" fill="#efb030" stroke="#46340e" stroke-width="0.8"/>
<circle cx="127.19" cy="249.60" r="2.95" fill="#efb030" stroke="#46340e" stroke-width="0.8"/>
<circle cx="132.32" cy="250.55" r="2.95" fill="#efb030" stroke="#46340e" stroke-width="0.8"/>
<circle cx="137.45" cy="251.50" r="2.95" fill="#efb030" stroke="#46340e" stroke-width="0.8"/>
<circle cx="142.58" cy="252.35" r="2.95" fill="#efb030" stroke="#46340e" stroke-width="0.8"/>
<circle cx="147.71" cy="253.20" r="2.95" fill="#efb030" stroke="#46340e" stroke-width="0.8"/>
<circle cx="152.83" cy="253.65" r="2.95" fill="#efb030" stroke="#46340e" stroke-width="0.8"/>
<circle cx="157.96" cy="254.10" r="2.95" fill="#efb030" stroke="#46340e" stroke-width="0.8"/>
<circle cx="163.09" cy="254.60" r="2.95" fill="#efb030" stroke="#46340e" stroke-width="0.8"/>
<circle cx="168.22" cy="255.10" r="2.95" fill="#efb030" stroke="#46340e" stroke-width="0.8"/>
<circle cx="173.35" cy="255.70" r="2.95" fill="#efb030" stroke="#46340e" stroke-width="0.8"/>
<circle cx="178.48" cy="256.30" r="2.95" fill="#efb030" stroke="#46340e" stroke-width="0.8"/>
<circle cx="183.61" cy="256.80" r="2.95" fill="#efb030" stroke="#46340e" stroke-width="0.8"/>
<circle cx="188.73" cy="257.30" r="2.95" fill="#efb030" stroke="#46340e" stroke-width="0.8"/>
<circle cx="193.86" cy="257.55" r="2.95" fill="#efb030" stroke="#46340e" stroke-width="0.8"/>
<circle cx="198.99" cy="257.80" r="2.95" fill="#efb030" stroke="#46340e" stroke-width="0.8"/>
<circle cx="204.12" cy="258.15" r="2.95" fill="#efb030" stroke="#46340e" stroke-width="0.8"/>
<circle cx="209.25" cy="258.50" r="2.95" fill="#efb030" stroke="#46340e" stroke-width="0.8"/>
<circle cx="214.38" cy="258.68" r="2.95" fill="#efb030" stroke="#46340e" stroke-width="0.8"/>
<circle cx="219.50" cy="258.85" r="2.95" fill="#efb030" stroke="#46340e" stroke-width="0.8"/>
<circle cx="224.63" cy="259.02" r="2.95" fill="#efb030" stroke="#46340e" stroke-width="0.8"/>
<circle cx="229.76" cy="259.20" r="2.95" fill="#efb030" stroke="#46340e" stroke-width="0.8"/>
<circle cx="234.89" cy="259.38" r="2.95" fill="#efb030" stroke="#46340e" stroke-width="0.8"/>
<circle cx="240.02" cy="259.55" r="2.95" fill="#efb030" stroke="#46340e" stroke-width="0.8"/>
<circle cx="245.15" cy="259.72" r="2.95" fill="#efb030" stroke="#46340e" stroke-width="0.8"/>
<circle cx="250.28" cy="259.90" r="2.95" fill="#efb030" stroke="#46340e" stroke-width="0.8"/>
<circle cx="255.40" cy="260.08" r="2.95" fill="#efb030" stroke="#46340e" stroke-width="0.8"/>
<circle cx="260.53" cy="260.26" r="2.95" fill="#efb030" stroke="#46340e" stroke-width="0.8"/>
<circle cx="265.66" cy="260.43" r="2.95" fill="#efb030" stroke="#46340e" stroke-width="0.8"/>
<circle cx="270.79" cy="260.61" r="2.95" fill="#efb030" stroke="#46340e" stroke-width="0.8"/>
<circle cx="275.92" cy="260.79" r="2.95" fill="#efb030" stroke="#46340e" stroke-width="0.8"/>
<circle cx="281.05" cy="260.97" r="2.95" fill="#efb030" stroke="#46340e" stroke-width="0.8"/>
<circle cx="286.18" cy="261.14" r="2.95" fill="#efb030" stroke="#46340e" stroke-width="0.8"/>
<circle cx="291.30" cy="261.32" r="2.95" fill="#efb030" stroke="#46340e" stroke-width="0.8"/>
<circle cx="296.43" cy="261.50" r="2.95" fill="#efb030" stroke="#46340e" stroke-width="0.8"/>
<circle cx="301.56" cy="261.55" r="2.95" fill="#efb030" stroke="#46340e" stroke-width="0.8"/>
<circle cx="306.69" cy="261.60" r="2.95" fill="#efb030" stroke="#46340e" stroke-width="0.8"/>
<circle cx="311.82" cy="261.65" r="2.95" fill="#efb030" stroke="#46340e" stroke-width="0.8"/>
<circle cx="316.95" cy="261.70" r="2.95" fill="#efb030" stroke="#46340e" stroke-width="0.8"/>
<circle cx="322.08" cy="261.75" r="2.95" fill="#efb030" stroke="#46340e" stroke-width="0.8"/>
<circle cx="327.20" cy="261.80" r="2.95" fill="#efb030" stroke="#46340e" stroke-width="0.8"/>
<circle cx="332.33" cy="261.85" r="2.95" fill="#efb030" stroke="#46340e" stroke-width="0.8"/>
<circle cx="337.46" cy="261.90" r="2.95" fill="#efb030" stroke="#46340e" stroke-width="0.8"/>
<circle cx="342.59" cy="261.95" r="2.95" fill="#efb030" stroke="#46340e" stroke-width="0.8"/>
<circle cx="347.72" cy="262.00" r="2.95" fill="#efb030" stroke="#46340e" stroke-width="0.8"/>
<circle cx="352.85" cy="262.05" r="2.95" fill="#efb030" stroke="#46340e" stroke-width="0.8"/>
<circle cx="357.97" cy="262.10" r="2.95" fill="#efb030" stroke="#46340e" stroke-width="0.8"/>
<circle cx="363.10" cy="262.15" r="2.95" fill="#efb030" stroke="#46340e" stroke-width="0.8"/>
<circle cx="368.23" cy="262.20" r="2.95" fill="#efb030" stroke="#46340e" stroke-width="0.8"/>
<circle cx="373.36" cy="262.25" r="2.95" fill="#efb030" stroke="#46340e" stroke-width="0.8"/>
<circle cx="378.49" cy="262.30" r="2.95" fill="#efb030" stroke="#46340e" stroke-width="0.8"/>
<circle cx="383.62" cy="262.35" r="2.95" fill="#efb030" stroke="#46340e" stroke-width="0.8"/>
<circle cx="388.75" cy="262.40" r="2.95" fill="#efb030" stroke="#46340e" stroke-width="0.8"/>
<circle cx="393.87" cy="262.43" r="2.95" fill="#efb030" stroke="#46340e" stroke-width="0.8"/>
<circle cx="399.00" cy="262.47" r="2.95" fill="#efb030" stroke="#46340e" stroke-width="0.8"/>
<circle cx="404.13" cy="262.50" r="2.95" fill="#efb030" stroke="#46340e" stroke-width="0.8"/>
<circle cx="409.26" cy="262.53" r="2.95" fill="#efb030" stroke="#46340e" stroke-width="0.8"/>
<circle cx="414.39" cy="262.57" r="2.95" fill="#efb030" stroke="#46340e" stroke-width="0.8"/>
<circle cx="419.52" cy="262.60" r="2.95" fill="#efb030" stroke="#46340e" stroke-width="0.8"/>
<circle cx="424.64" cy="262.63" r="2.95" fill="#efb030" stroke="#46340e" stroke-width="0.8"/>
<circle cx="429.77" cy="262.67" r="2.95" fill="#efb030" stroke="#46340e" stroke-width="0.8"/>
<circle cx="434.90" cy="262.70" r="2.95" fill="#efb030" stroke="#46340e" stroke-width="0.8"/>
<circle cx="440.03" cy="262.73" r="2.95" fill="#efb030" stroke="#46340e" stroke-width="0.8"/>
<circle cx="445.16" cy="262.77" r="2.95" fill="#efb030" stroke="#46340e" stroke-width="0.8"/>
<circle cx="450.29" cy="262.80" r="2.95" fill="#efb030" stroke="#46340e" stroke-width="0.8"/>
<circle cx="455.42" cy="262.82" r="2.95" fill="#efb030" stroke="#46340e" stroke-width="0.8"/>
<circle cx="460.54" cy="262.83" r="2.95" fill="#efb030" stroke="#46340e" stroke-width="0.8"/>
<circle cx="465.67" cy="262.85" r="2.95" fill="#efb030" stroke="#46340e" stroke-width="0.8"/>
<circle cx="470.80" cy="262.86" r="2.95" fill="#efb030" stroke="#46340e" stroke-width="0.8"/>
<circle cx="475.93" cy="262.88" r="2.95" fill="#efb030" stroke="#46340e" stroke-width="0.8"/>
<circle cx="481.06" cy="262.90" r="2.95" fill="#efb030" stroke="#46340e" stroke-width="0.8"/>
<circle cx="486.19" cy="262.91" r="2.95" fill="#efb030" stroke="#46340e" stroke-width="0.8"/>
<circle cx="491.32" cy="262.93" r="2.95" fill="#efb030" stroke="#46340e" stroke-width="0.8"/>
<circle cx="496.44" cy="262.94" r="2.95" fill="#efb030" stroke="#46340e" stroke-width="0.8"/>
<circle cx="501.57" cy="262.96" r="2.95" fill="#efb030" stroke="#46340e" stroke-width="0.8"/>
<circle cx="506.70" cy="262.98" r="2.95" fill="#efb030" stroke="#46340e" stroke-width="0.8"/>
<circle cx="511.83" cy="262.99" r="2.95" fill="#efb030" stroke="#46340e" stroke-width="0.8"/>
<circle cx="516.96" cy="263.01" r="2.95" fill="#efb030" stroke="#46340e" stroke-width="0.8"/>
<circle cx="522.09" cy="263.02" r="2.95" fill="#efb030" stroke="#46340e" stroke-width="0.8"/>
<circle cx="527.22" cy="263.04" r="2.95" fill="#efb030" stroke="#46340e" stroke-width="0.8"/>
<circle cx="532.34" cy="263.06" r="2.95" fill="#efb030" stroke="#46340e" stroke-width="0.8"/>
<circle cx="537.47" cy="263.07" r="2.95" fill="#efb030" stroke="#46340e" stroke-width="0.8"/>
<circle cx="542.60" cy="263.09" r="2.95" fill="#efb030" stroke="#46340e" stroke-width="0.8"/>
<circle cx="547.73" cy="263.10" r="2.95" fill="#efb030" stroke="#46340e" stroke-width="0.8"/>
<circle cx="552.86" cy="263.12" r="2.95" fill="#efb030" stroke="#46340e" stroke-width="0.8"/>
<circle cx="557.99" cy="263.14" r="2.95" fill="#efb030" stroke="#46340e" stroke-width="0.8"/>
<circle cx="563.11" cy="263.15" r="2.95" fill="#efb030" stroke="#46340e" stroke-width="0.8"/>
<circle cx="568.24" cy="263.17" r="2.95" fill="#efb030" stroke="#46340e" stroke-width="0.8"/>
<circle cx="573.37" cy="263.18" r="2.95" fill="#efb030" stroke="#46340e" stroke-width="0.8"/>
<circle cx="578.50" cy="263.20" r="2.95" fill="#efb030" stroke="#46340e" stroke-width="0.8"/>
</g>
<g>
<path d="M62.40 294.40L68.90 294.40L65.65 301.00Z" fill="#70f378" stroke="#173c1b" stroke-width="0.75"/>
<path d="M67.53 267.70L74.03 267.70L70.78 274.30Z" fill="#70f378" stroke="#173c1b" stroke-width="0.75"/>
<path d="M72.66 248.00L79.16 248.00L75.91 254.60Z" fill="#70f378" stroke="#173c1b" stroke-width="0.75"/>
<path d="M77.79 235.30L84.29 235.30L81.04 241.90Z" fill="#70f378" stroke="#173c1b" stroke-width="0.75"/>
<path d="M82.91 223.90L89.41 223.90L86.16 230.50Z" fill="#70f378" stroke="#173c1b" stroke-width="0.75"/>
<path d="M88.04 215.00L94.54 215.00L91.29 221.60Z" fill="#70f378" stroke="#173c1b" stroke-width="0.75"/>
<path d="M93.17 206.10L99.67 206.10L96.42 212.70Z" fill="#70f378" stroke="#173c1b" stroke-width="0.75"/>
<path d="M98.30 198.70L104.80 198.70L101.55 205.30Z" fill="#70f378" stroke="#173c1b" stroke-width="0.75"/>
<path d="M103.43 193.30L109.93 193.30L106.68 199.90Z" fill="#70f378" stroke="#173c1b" stroke-width="0.75"/>
<path d="M108.56 188.40L115.06 188.40L111.81 195.00Z" fill="#70f378" stroke="#173c1b" stroke-width="0.75"/>
<path d="M113.69 182.90L120.19 182.90L116.94 189.50Z" fill="#70f378" stroke="#173c1b" stroke-width="0.75"/>
<path d="M118.81 179.10L125.31 179.10L122.06 185.70Z" fill="#70f378" stroke="#173c1b" stroke-width="0.75"/>
<path d="M123.94 175.50L130.44 175.50L127.19 182.10Z" fill="#70f378" stroke="#173c1b" stroke-width="0.75"/>
<path d="M129.07 172.50L135.57 172.50L132.32 179.10Z" fill="#70f378" stroke="#173c1b" stroke-width="0.75"/>
<path d="M134.20 169.50L140.70 169.50L137.45 176.10Z" fill="#70f378" stroke="#173c1b" stroke-width="0.75"/>
<path d="M139.33 166.60L145.83 166.60L142.58 173.20Z" fill="#70f378" stroke="#173c1b" stroke-width="0.75"/>
<path d="M144.46 164.40L150.96 164.40L147.71 171.00Z" fill="#70f378" stroke="#173c1b" stroke-width="0.75"/>
<path d="M149.58 162.40L156.08 162.40L152.83 169.00Z" fill="#70f378" stroke="#173c1b" stroke-width="0.75"/>
<path d="M154.71 160.80L161.21 160.80L157.96 167.40Z" fill="#70f378" stroke="#173c1b" stroke-width="0.75"/>
<path d="M159.84 160.00L166.34 160.00L163.09 166.60Z" fill="#70f378" stroke="#173c1b" stroke-width="0.75"/>
<path d="M164.97 158.25L171.47 158.25L168.22 164.85Z" fill="#70f378" stroke="#173c1b" stroke-width="0.75"/>
<path d="M170.10 157.20L176.60 157.20L173.35 163.80Z" fill="#70f378" stroke="#173c1b" stroke-width="0.75"/>
<path d="M175.23 155.90L181.73 155.90L178.48 162.50Z" fill="#70f378" stroke="#173c1b" stroke-width="0.75"/>
<path d="M180.36 154.60L186.86 154.60L183.61 161.20Z" fill="#70f378" stroke="#173c1b" stroke-width="0.75"/>
<path d="M185.48 153.50L191.98 153.50L188.73 160.10Z" fill="#70f378" stroke="#173c1b" stroke-width="0.75"/>
<path d="M190.61 153.20L197.11 153.20L193.86 159.80Z" fill="#70f378" stroke="#173c1b" stroke-width="0.75"/>
<path d="M195.74 152.10L202.24 152.10L198.99 158.70Z" fill="#70f378" stroke="#173c1b" stroke-width="0.75"/>
<path d="M200.87 151.00L207.37 151.00L204.12 157.60Z" fill="#70f378" stroke="#173c1b" stroke-width="0.75"/>
<path d="M206.00 150.80L212.50 150.80L209.25 157.40Z" fill="#70f378" stroke="#173c1b" stroke-width="0.75"/>
<path d="M211.13 150.10L217.63 150.10L214.38 156.70Z" fill="#70f378" stroke="#173c1b" stroke-width="0.75"/>
<path d="M216.25 149.40L222.75 149.40L219.50 156.00Z" fill="#70f378" stroke="#173c1b" stroke-width="0.75"/>
<path d="M221.38 149.00L227.88 149.00L224.63 155.60Z" fill="#70f378" stroke="#173c1b" stroke-width="0.75"/>
<path d="M226.51 147.70L233.01 147.70L229.76 154.30Z" fill="#70f378" stroke="#173c1b" stroke-width="0.75"/>
<path d="M231.64 147.60L238.14 147.60L234.89 154.20Z" fill="#70f378" stroke="#173c1b" stroke-width="0.75"/>
<path d="M236.77 147.10L243.27 147.10L240.02 153.70Z" fill="#70f378" stroke="#173c1b" stroke-width="0.75"/>
<path d="M241.90 146.63L248.40 146.63L245.15 153.23Z" fill="#70f378" stroke="#173c1b" stroke-width="0.75"/>
<path d="M247.03 146.17L253.53 146.17L250.28 152.77Z" fill="#70f378" stroke="#173c1b" stroke-width="0.75"/>
<path d="M252.15 145.70L258.65 145.70L255.40 152.30Z" fill="#70f378" stroke="#173c1b" stroke-width="0.75"/>
<path d="M257.28 145.23L263.78 145.23L260.53 151.83Z" fill="#70f378" stroke="#173c1b" stroke-width="0.75"/>
<path d="M262.41 144.77L268.91 144.77L265.66 151.37Z" fill="#70f378" stroke="#173c1b" stroke-width="0.75"/>
<path d="M267.54 144.30L274.04 144.30L270.79 150.90Z" fill="#70f378" stroke="#173c1b" stroke-width="0.75"/>
<path d="M272.67 143.92L279.17 143.92L275.92 150.52Z" fill="#70f378" stroke="#173c1b" stroke-width="0.75"/>
<path d="M277.80 143.54L284.30 143.54L281.05 150.14Z" fill="#70f378" stroke="#173c1b" stroke-width="0.75"/>
<path d="M282.93 143.16L289.43 143.16L286.18 149.76Z" fill="#70f378" stroke="#173c1b" stroke-width="0.75"/>
<path d="M288.05 142.78L294.55 142.78L291.30 149.38Z" fill="#70f378" stroke="#173c1b" stroke-width="0.75"/>
<path d="M293.18 142.40L299.68 142.40L296.43 149.00Z" fill="#70f378" stroke="#173c1b" stroke-width="0.75"/>
<path d="M298.31 142.17L304.81 142.17L301.56 148.77Z" fill="#70f378" stroke="#173c1b" stroke-width="0.75"/>
<path d="M303.44 141.93L309.94 141.93L306.69 148.53Z" fill="#70f378" stroke="#173c1b" stroke-width="0.75"/>
<path d="M308.57 141.70L315.07 141.70L311.82 148.30Z" fill="#70f378" stroke="#173c1b" stroke-width="0.75"/>
<path d="M313.70 141.47L320.20 141.47L316.95 148.07Z" fill="#70f378" stroke="#173c1b" stroke-width="0.75"/>
<path d="M318.83 141.23L325.33 141.23L322.08 147.83Z" fill="#70f378" stroke="#173c1b" stroke-width="0.75"/>
<path d="M323.95 141.00L330.45 141.00L327.20 147.60Z" fill="#70f378" stroke="#173c1b" stroke-width="0.75"/>
<path d="M329.08 140.87L335.58 140.87L332.33 147.47Z" fill="#70f378" stroke="#173c1b" stroke-width="0.75"/>
<path d="M334.21 140.73L340.71 140.73L337.46 147.33Z" fill="#70f378" stroke="#173c1b" stroke-width="0.75"/>
<path d="M339.34 140.60L345.84 140.60L342.59 147.20Z" fill="#70f378" stroke="#173c1b" stroke-width="0.75"/>
<path d="M344.47 140.47L350.97 140.47L347.72 147.07Z" fill="#70f378" stroke="#173c1b" stroke-width="0.75"/>
<path d="M349.60 140.33L356.10 140.33L352.85 146.93Z" fill="#70f378" stroke="#173c1b" stroke-width="0.75"/>
<path d="M354.72 140.20L361.22 140.20L357.97 146.80Z" fill="#70f378" stroke="#173c1b" stroke-width="0.75"/>
<path d="M359.85 140.07L366.35 140.07L363.10 146.67Z" fill="#70f378" stroke="#173c1b" stroke-width="0.75"/>
<path d="M364.98 139.93L371.48 139.93L368.23 146.53Z" fill="#70f378" stroke="#173c1b" stroke-width="0.75"/>
<path d="M370.11 139.80L376.61 139.80L373.36 146.40Z" fill="#70f378" stroke="#173c1b" stroke-width="0.75"/>
<path d="M375.24 139.67L381.74 139.67L378.49 146.27Z" fill="#70f378" stroke="#173c1b" stroke-width="0.75"/>
<path d="M380.37 139.53L386.87 139.53L383.62 146.13Z" fill="#70f378" stroke="#173c1b" stroke-width="0.75"/>
<path d="M385.50 139.40L392.00 139.40L388.75 146.00Z" fill="#70f378" stroke="#173c1b" stroke-width="0.75"/>
<path d="M390.62 139.27L397.12 139.27L393.87 145.87Z" fill="#70f378" stroke="#173c1b" stroke-width="0.75"/>
<path d="M395.75 139.13L402.25 139.13L399.00 145.73Z" fill="#70f378" stroke="#173c1b" stroke-width="0.75"/>
<path d="M400.88 139.00L407.38 139.00L404.13 145.60Z" fill="#70f378" stroke="#173c1b" stroke-width="0.75"/>
<path d="M406.01 138.87L412.51 138.87L409.26 145.47Z" fill="#70f378" stroke="#173c1b" stroke-width="0.75"/>
<path d="M411.14 138.73L417.64 138.73L414.39 145.33Z" fill="#70f378" stroke="#173c1b" stroke-width="0.75"/>
<path d="M416.27 138.60L422.77 138.60L419.52 145.20Z" fill="#70f378" stroke="#173c1b" stroke-width="0.75"/>
<path d="M421.39 138.47L427.89 138.47L424.64 145.07Z" fill="#70f378" stroke="#173c1b" stroke-width="0.75"/>
<path d="M426.52 138.33L433.02 138.33L429.77 144.93Z" fill="#70f378" stroke="#173c1b" stroke-width="0.75"/>
<path d="M431.65 138.20L438.15 138.20L434.90 144.80Z" fill="#70f378" stroke="#173c1b" stroke-width="0.75"/>
<path d="M436.78 138.07L443.28 138.07L440.03 144.67Z" fill="#70f378" stroke="#173c1b" stroke-width="0.75"/>
<path d="M441.91 137.93L448.41 137.93L445.16 144.53Z" fill="#70f378" stroke="#173c1b" stroke-width="0.75"/>
<path d="M447.04 137.80L453.54 137.80L450.29 144.40Z" fill="#70f378" stroke="#173c1b" stroke-width="0.75"/>
<path d="M452.17 137.79L458.67 137.79L455.42 144.39Z" fill="#70f378" stroke="#173c1b" stroke-width="0.75"/>
<path d="M457.29 137.78L463.79 137.78L460.54 144.38Z" fill="#70f378" stroke="#173c1b" stroke-width="0.75"/>
<path d="M462.42 137.77L468.92 137.77L465.67 144.37Z" fill="#70f378" stroke="#173c1b" stroke-width="0.75"/>
<path d="M467.55 137.76L474.05 137.76L470.80 144.36Z" fill="#70f378" stroke="#173c1b" stroke-width="0.75"/>
<path d="M472.68 137.74L479.18 137.74L475.93 144.34Z" fill="#70f378" stroke="#173c1b" stroke-width="0.75"/>
<path d="M477.81 137.73L484.31 137.73L481.06 144.33Z" fill="#70f378" stroke="#173c1b" stroke-width="0.75"/>
<path d="M482.94 137.72L489.44 137.72L486.19 144.32Z" fill="#70f378" stroke="#173c1b" stroke-width="0.75"/>
<path d="M488.07 137.71L494.57 137.71L491.32 144.31Z" fill="#70f378" stroke="#173c1b" stroke-width="0.75"/>
<path d="M493.19 137.70L499.69 137.70L496.44 144.30Z" fill="#70f378" stroke="#173c1b" stroke-width="0.75"/>
<path d="M498.32 136.80L504.82 136.80L501.57 143.40Z" fill="#70f378" stroke="#173c1b" stroke-width="0.75"/>
<path d="M503.45 136.80L509.95 136.80L506.70 143.40Z" fill="#70f378" stroke="#173c1b" stroke-width="0.75"/>
<path d="M508.58 136.80L515.08 136.80L511.83 143.40Z" fill="#70f378" stroke="#173c1b" stroke-width="0.75"/>
<path d="M513.71 136.80L520.21 136.80L516.96 143.40Z" fill="#70f378" stroke="#173c1b" stroke-width="0.75"/>
<path d="M518.84 136.80L525.34 136.80L522.09 143.40Z" fill="#70f378" stroke="#173c1b" stroke-width="0.75"/>
<path d="M523.97 136.80L530.47 136.80L527.22 143.40Z" fill="#70f378" stroke="#173c1b" stroke-width="0.75"/>
<path d="M529.09 136.80L535.59 136.80L532.34 143.40Z" fill="#70f378" stroke="#173c1b" stroke-width="0.75"/>
<path d="M534.22 136.80L540.72 136.80L537.47 143.40Z" fill="#70f378" stroke="#173c1b" stroke-width="0.75"/>
<path d="M539.35 136.80L545.85 136.80L542.60 143.40Z" fill="#70f378" stroke="#173c1b" stroke-width="0.75"/>
<path d="M544.48 136.80L550.98 136.80L547.73 143.40Z" fill="#70f378" stroke="#173c1b" stroke-width="0.75"/>
<path d="M549.61 136.80L556.11 136.80L552.86 143.40Z" fill="#70f378" stroke="#173c1b" stroke-width="0.75"/>
<path d="M554.74 136.80L561.24 136.80L557.99 143.40Z" fill="#70f378" stroke="#173c1b" stroke-width="0.75"/>
<path d="M559.86 136.80L566.36 136.80L563.11 143.40Z" fill="#70f378" stroke="#173c1b" stroke-width="0.75"/>
<path d="M564.99 136.80L571.49 136.80L568.24 143.40Z" fill="#70f378" stroke="#173c1b" stroke-width="0.75"/>
<path d="M570.12 136.80L576.62 136.80L573.37 143.40Z" fill="#70f378" stroke="#173c1b" stroke-width="0.75"/>
<path d="M575.25 136.20L581.75 136.20L578.50 142.80Z" fill="#70f378" stroke="#173c1b" stroke-width="0.75"/>
</g>
<g font-family='"DejaVu Sans","Liberation Sans",sans-serif' font-size="7.5px" fill="#000" stroke="#000" stroke-width="0.33">
<line x1="607.0" x2="621.1" y1="157.0" y2="157.0" stroke="#a8d3f2" stroke-width="1.2"/>
<rect x="610.58" y="153.38" width="7.04" height="7.04" fill="url(#gb)" stroke="#10283c" stroke-width="0.85"/>
<text x="624.4" y="159.90" textLength="40.7" lengthAdjust="spacingAndGlyphs">diclofenac</text>
<line x1="607.0" x2="621.1" y1="170.0" y2="170.0" stroke="#f9a6b4" stroke-width="1.2"/>
<path d="M610.59 173.06L617.61 173.06L614.10 165.94Z" fill="#f0506b" stroke="#3c121c" stroke-width="0.75"/>
<text x="624.4" y="172.90" textLength="60.0" lengthAdjust="spacingAndGlyphs">diclofenac+PPI</text>
<line x1="607.0" x2="621.1" y1="183.0" y2="183.0" stroke="#f9d9a8" stroke-width="1.2"/>
<circle cx="614.10" cy="183.00" r="3.25" fill="#efb030" stroke="#46340e" stroke-width="0.8"/>
<text x="624.4" y="185.90" textLength="37.5" lengthAdjust="spacingAndGlyphs">imrecoxib</text>
<line x1="607.0" x2="621.1" y1="196.5" y2="196.5" stroke="#b2f7b6" stroke-width="1.2"/>
<path d="M610.59 193.34L617.61 193.34L614.10 200.46Z" fill="#70f378" stroke="#173c1b" stroke-width="0.75"/>
<text x="624.4" y="199.40" textLength="56.2" lengthAdjust="spacingAndGlyphs">imrecoxib+PPI</text>
</g>
</svg>
</body></html>
